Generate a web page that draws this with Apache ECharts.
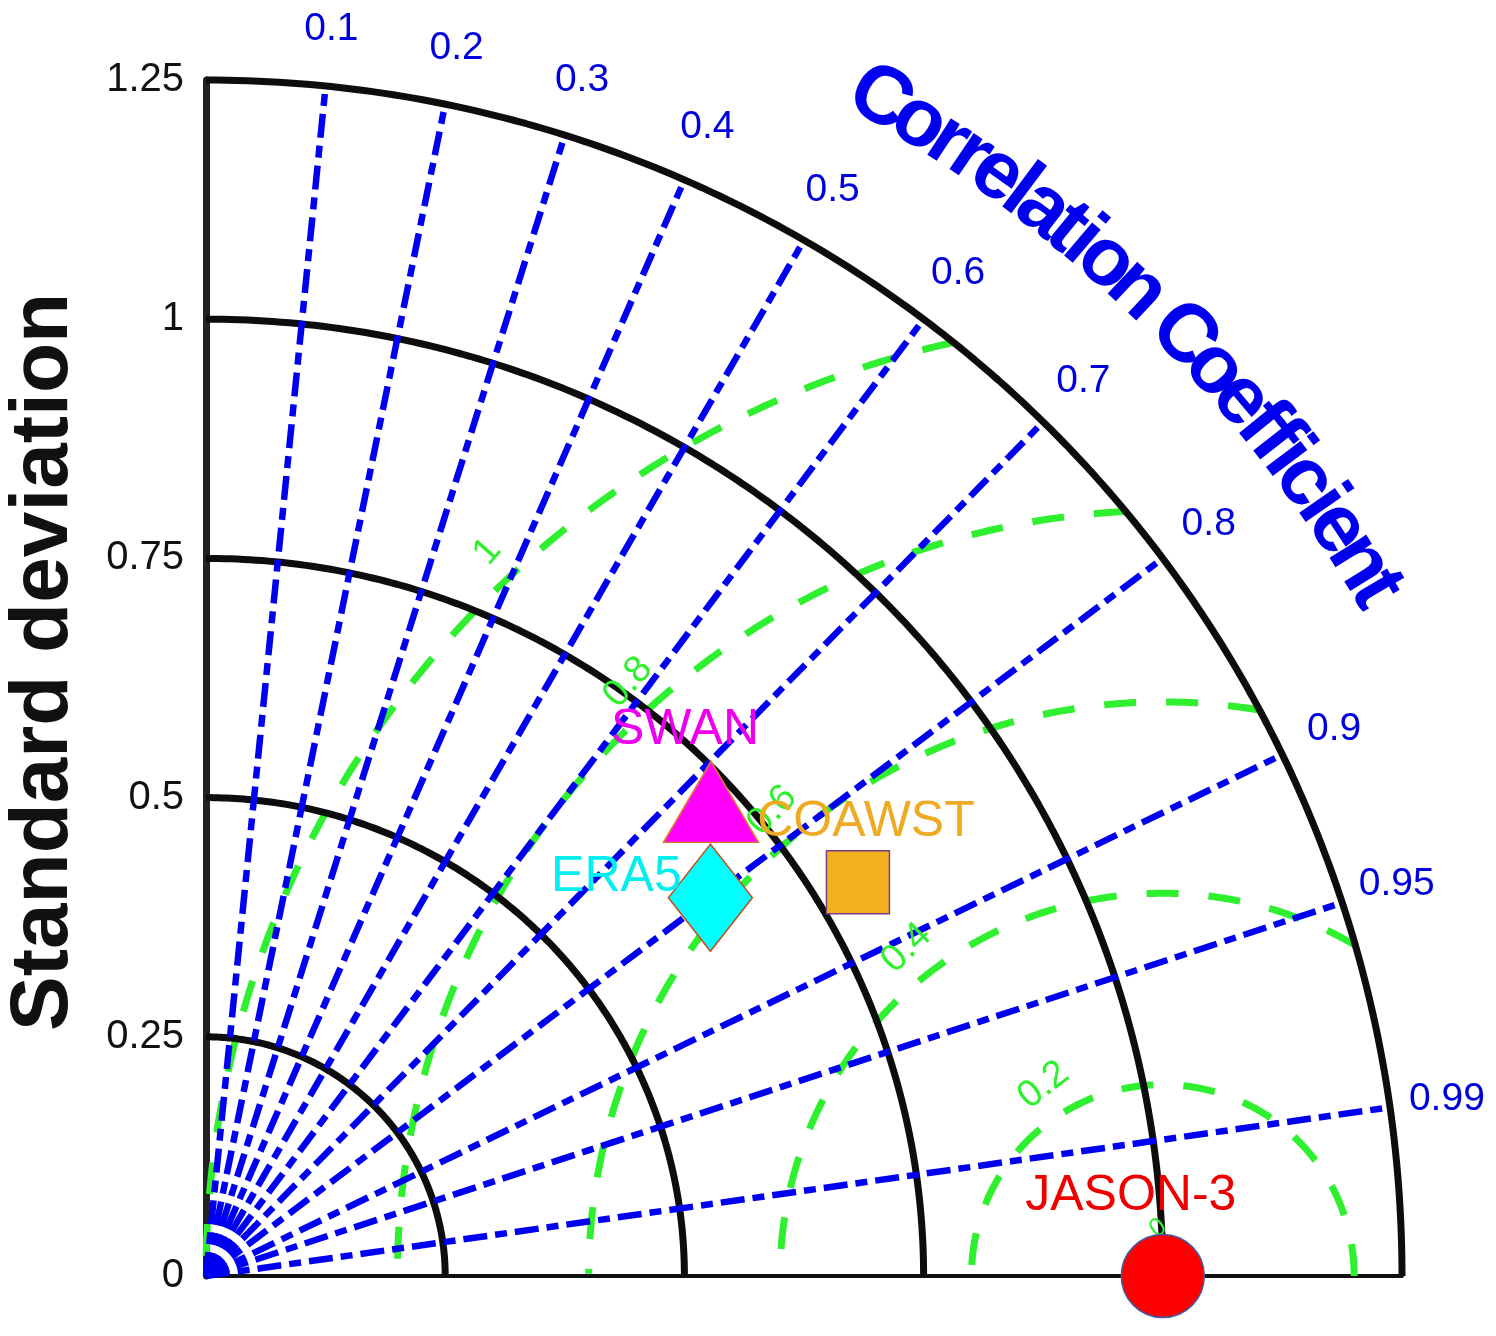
<!DOCTYPE html>
<html><head><meta charset="utf-8">
<script src="https://cdn.jsdelivr.net/npm/echarts@6/dist/echarts.min.js"></script>
<style>html,body{margin:0;padding:0;background:#fff}#c{width:1496px;height:1336px}</style>
</head><body><div id="c"></div>
<script>
// ---------------- data ----------------
const modelNames = ['SWAN', 'ERA5', 'COAWST', 'JASON-3'];
const modelStd   = [0.724, 0.659, 0.796, 1.0];
const modelCorr  = [0.729, 0.800, 0.856, 1.0];
const stdTicks   = [0, 0.25, 0.5, 0.75, 1, 1.25];
const stdArcs    = [0.25, 0.5, 0.75, 1.0, 1.25];
const corrTicks  = [0.1, 0.2, 0.3, 0.4, 0.5, 0.6, 0.7, 0.8, 0.9, 0.95, 0.99];
const rmsLevels  = [0.2, 0.4, 0.6, 0.8, 1.0];
const rmsLabelAngles = [122, 128, 130, 132, 133];
const refStd = 1.0;
const maxStd = 1.25;
const titleY = 'Standard deviation';
const titleArc = 'Correlation Coefficient';

// ---------------- styles ----------------
const FONT = '"Liberation Sans", Arial, Helvetica, sans-serif';
const deg = Math.PI / 180;
const markerStyles = [
  {symbol: 'triangle', size: [95, 81], color: '#ff00ff', border: '#e07a30', labelColor: '#ee00ee', offset: [-26, -72]},
  {symbol: 'diamond',  size: [84, 107], color: '#00ffff', border: '#c0501c', labelColor: '#00f0f0', offset: [-94, -20]},
  {symbol: 'rect',     size: [63, 63], color: '#f2b01e', border: '#7a3c8c', labelColor: '#eeaa22', offset: [8, -60]},
  {symbol: 'circle',   size: 83,       color: '#ff0000', border: '#3a5ea8', labelColor: '#ee0000', offset: [-32, -80]}
];

function arcPts(r) {
  const p = [];
  for (let a = 0; a <= 90.0001; a += 0.5) p.push([r * Math.cos(a * deg), r * Math.sin(a * deg)]);
  return p;
}
function rmsPts(r) {
  let c = (maxStd * maxStd - refStd * refStd - r * r) / (2 * r * refStd);
  c = Math.max(-1, Math.min(1, c));
  const t0 = Math.acos(c) / deg;
  const p = [];
  for (let t = t0; t <= 180.0001; t += 0.5) p.push([refStd + r * Math.cos(t * deg), r * Math.sin(t * deg)]);
  return p;
}

const series = [];
// green RMS circles
rmsLevels.forEach(r => series.push({
  type: 'line', data: rmsPts(r), symbol: 'none', smooth: false, silent: true, z: 2,
  lineStyle: {color: '#2ef02e', width: 7, type: [32, 30], opacity: 1}
}));
// black std arcs
stdArcs.forEach(r => series.push({
  type: 'line', data: arcPts(r), symbol: 'none', silent: true, z: 3, clip: false,
  lineStyle: {color: '#0d0d0d', width: 7, opacity: 1}
}));
// blue correlation lines
corrTicks.forEach(c => series.push({
  type: 'line', data: [[0, 0], [maxStd * c, maxStd * Math.sqrt(1 - c * c)]], symbol: 'none', silent: true, z: 4, clip: false,
  lineStyle: {color: '#0000f0', width: 6.5, type: [24, 8, 12, 8], opacity: 1}
}));
// correlation labels
series.push({
  type: 'scatter', z: 5, clip: false, symbolSize: 1, itemStyle: {color: 'rgba(0,0,0,0)', opacity: 1}, silent: true,
  data: corrTicks.map(c => ({value: [1.31 * c, 1.31 * Math.sqrt(1 - c * c)], name: String(c)})),
  label: {show: true, position: 'inside', formatter: p => p.name, color: '#0000dd', fontSize: 39, fontFamily: FONT, opacity: 1}
});
// RMS labels
series.push({
  type: 'scatter', z: 5, clip: false, symbolSize: 1, itemStyle: {color: 'rgba(0,0,0,0)', opacity: 1}, silent: true,
  data: rmsLevels.map((r, i) => {
    const t = rmsLabelAngles[i] * deg, rr = r + 0.035;
    return {value: [refStd + rr * Math.cos(t), rr * Math.sin(t)], name: String(r),
      label: {rotate: rmsLabelAngles[i] - 90 + 6}};
  }).concat([{value: [0.995, 0.05], name: '0', label: {rotate: 35, fontSize: 26}}]),
  label: {show: true, position: 'inside', formatter: p => p.name, color: '#2ef02e', fontSize: 38, fontFamily: FONT, opacity: 1}
});
// model markers
series.push({
  type: 'scatter', z: 6, clip: false,
  emphasis: {disabled: true},
  data: modelNames.map((n, i) => {
    const s = modelStd[i], c = modelCorr[i], st = markerStyles[i];
    return {
      name: n, value: [s * c, s * Math.sqrt(1 - c * c)],
      symbol: st.symbol, symbolSize: st.size,
      itemStyle: {color: st.color, borderColor: st.border, borderWidth: 1.5, opacity: 1},
      label: {show: true, position: 'inside', offset: st.offset, formatter: n, color: st.labelColor, fontSize: 50, fontFamily: FONT, opacity: 1}
    };
  })
});

const chart = echarts.init(document.getElementById('c'));
chart.setOption({
  backgroundColor: '#fff',
  animation: false,
  grid: {left: 206, top: 80, width: 1196, height: 1196},
  xAxis: {type: 'value', min: 0, max: maxStd, interval: 0.25,
    axisLine: {show: true, lineStyle: {color: '#111', width: 4}},
    axisTick: {show: false}, axisLabel: {show: false}, splitLine: {show: false}},
  yAxis: {type: 'value', min: 0, max: maxStd, interval: 0.25,
    axisLine: {show: true, lineStyle: {color: '#222', width: 7}},
    axisTick: {show: false}, splitLine: {show: false},
    axisLabel: {color: '#111', fontSize: 40, fontFamily: FONT, margin: 22,
      formatter: v => stdTicks.includes(+v.toFixed(2)) ? String(+v.toFixed(2)) : ''}},
  series: series
});

// titles
const o = chart.convertToPixel({gridIndex: 0}, [0, 0]);
const graphics = [{
  type: 'text', x: 44, y: 662, rotation: Math.PI / 2, z: 10,
  style: {text: titleY, font: 'bold 82px ' + FONT, fill: '#111', align: 'center', verticalAlign: 'middle', textAlign: 'center', textVerticalAlign: 'middle'}
}];
const cv = document.createElement('canvas').getContext('2d');
const tf = 'bold 82px ' + FONT;
cv.font = tf;
const chars = titleArc.split('');
const widths = chars.map(ch => cv.measureText(ch).width);
const centers = [];
let acc = 0;
widths.forEach(w => { centers.push(acc + w / 2); acc += w; });
const R = 1356, a0 = 60.2, a1 = 30.4;
const span = centers[centers.length - 1] - centers[0];
chars.forEach((ch, i) => {
  if (ch === ' ') return;
  const f = (centers[i] - centers[0]) / span;
  const a = (a0 + (a1 - a0) * f) * deg;
  graphics.push({
    type: 'text', x: o[0] + R * Math.cos(a), y: o[1] - R * Math.sin(a), rotation: a - Math.PI / 2, z: 10,
    style: {text: ch, font: tf, fill: '#0000ee', align: 'center', verticalAlign: 'middle', textAlign: 'center', textVerticalAlign: 'middle'}
  });
});
chart.setOption({graphic: graphics});
</script></body></html>
